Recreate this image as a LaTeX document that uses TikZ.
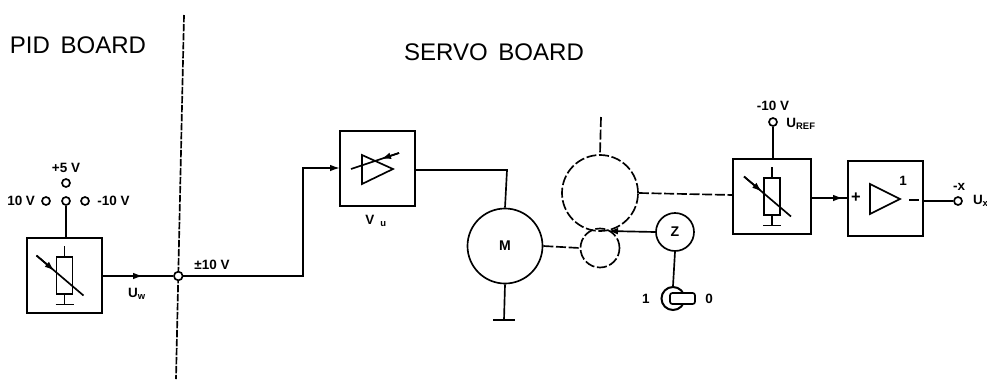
\documentclass[tikz,border=0pt]{standalone}
\usepackage{fontspec}
\setmainfont{Liberation Sans}
\usetikzlibrary{positioning,arrows.meta}

\begin{document}
\begin{tikzpicture}[x=0.03cm, y=-0.03cm, line width=0.5mm, every node/.style={font=\footnotesize},
  blockbox/.style={rectangle, draw, minimum size=2.25cm, inner sep=0pt},
  resbox/.style={rectangle, draw, minimum width=0.48cm, minimum height=1.11cm, inner sep=0pt},
  terminal/.style={circle, draw, minimum size=0.24cm, inner sep=0pt},
  wheel/.style={circle, draw, inner sep=0pt},
  shaft/.style={dash pattern=on 3mm off 0.8mm},
  sig/.style={-{Latex[length=3mm,width=2mm]}},
  title/.style={font=\fontsize{20.5}{22}\selectfont, inner sep=0pt},
  small/.style={font=\fontsize{11.5}{12}\selectfont\bfseries, inner sep=0pt}]
  \useasboundingbox (0,0) rectangle (987,379);

  % board titles and separator
  \node[title] (pid) at (78,45) {PID\, BOARD};
  \node[title] (servo) at (494,52) {SERVO\, BOARD};
  \coordinate (septop) at (184,15);
  \coordinate (sepbot) at (176,379);
  \draw[dash pattern=on 2.2mm off 0.5mm] (septop) -- (sepbot);

  % setpoint side
  \node[blockbox] (potl) at (64.5,275.5) {};
  \node[terminal] (tfive) at (66,183) {};
  \node[terminal] (tmid) at (66,201) {};
  \node[terminal] (tpos) at (46,201) {};
  \node[terminal] (tneg) at (85,201) {};
  \node[small, above=0.14cm of tfive] (lfive) {+5 V};
  \node[small, left=0.16cm of tpos] (lpos) {10 V};
  \node[small, right=0.2cm of tneg] (lneg) {-10 V};
  \draw (tmid) -- (tmid |- potl.north);
  \node[terminal, fill=white, minimum size=0.26cm] (junc) at (178.3,276) {};
  \coordinate (uwtip) at (143,276);
  \draw (potl.east |- uwtip) -- (junc);
  \draw[sig] (potl.east |- uwtip) -- (uwtip);
  \node[small] (uw) at (137,294) {U\textsubscript{w}};
  \node[small] (range) at (212,265) {±10 V};

  % amplifier and motor
  \node[blockbox] (ampv) at (377.5,168.5) {};
  \coordinate (ampin) at (340,168);
  \draw[sig] (junc) -- (303,276) -- (303,168) -- (ampin);
  \coordinate (tria) at (362,155);
  \coordinate (trib) at (393,169);
  \coordinate (tric) at (362,184);
  \draw (tria) -- (trib) -- (tric) -- cycle;
  \coordinate (gaina) at (351,169);
  \coordinate (gainb) at (399,153);
  \draw (gainb) -- (gaina);
  \draw[sig] (gainb) -- (381,159);
  \node[small] (vu) at (376,221) {V\, \textsubscript{u}};
  \node[wheel, minimum size=2.25cm] (motor) at (505,246) {\fontsize{12}{12}\selectfont\rmfamily\bfseries M};
  \draw (ampv.east |- 0,170) -- (507,170) -- (motor.north);
  \coordinate (motgnd) at (504,320);
  \draw (motor.south) -- (motgnd);
  \draw (493,320) -- (515,320);

  % gear train
  \node[wheel, shaft, minimum size=2.28cm] (gearb) at (600,193) {};
  \node[wheel, shaft, minimum size=1.17cm] (gears) at (600,248) {};
  \coordinate (geartop) at (601,117);
  \draw[shaft] (geartop) -- (gearb.north);
  \draw[shaft] (motor.east) -- (gears.west);

  % feedback pot and output
  \node[blockbox, minimum width=2.34cm] (potr) at (772,196.5) {};
  \node[blockbox] (outamp) at (885.5,198.5) {};
  \coordinate (potin) at (733,195);
  \draw[shaft] (gearb.east) -- (potin);
  \node[terminal] (tref) at (773,122) {};
  \draw (tref) -- (tref |- potr.north);
  \node[small, above=0.16cm of tref] (lref) {-10 V};
  \node[small] (uref) at (801,124) {U\textsubscript{REF}};
  \coordinate (frtip) at (843,198);
  \draw (potr.east |- frtip) -- (outamp.west |- frtip);
  \draw[sig] (potr.east |- frtip) -- (frtip);
  \node[small, font=\fontsize{14}{14}\selectfont\bfseries] (plus) at (856,198) {+};
  \draw (870,184) -- (900,199) -- (870,214) -- cycle;
  \node[small] (one) at (903,181) {1};
  \draw (909,200) -- (919,200);
  \node[terminal] (tout) at (958,201) {};
  \draw (outamp.east |- tout) -- (tout);
  \node[small] (lx) at (959,187) {-x};
  \node[small, right=0.28cm of tout] (ux) {U\textsubscript{x}};

  % tacho wheel and switch
  \node[wheel, minimum size=1.14cm] (zed) at (675,232) {\fontsize{12}{12}\selectfont\bfseries Z};
  \draw[sig] (zed.west) -- (608,231);
  \node[wheel, line width=0.6mm, minimum size=0.69cm] (swit) at (673,298.5) {};
  \node[rectangle, draw, fill=white, rounded corners=2pt, minimum width=0.75cm, minimum height=0.33cm, inner sep=0pt] (knob) at (682.5,298.5) {};
  \draw (zed.south) -- (swit.north);
  \node[small, left=0.3cm of swit] (lone) {1};
  \node[small, right=0.26cm of knob] (lzero) {0};

  % both pots carry the same symbol
  \foreach \b in {potl,potr}{
    \begin{scope}[shift={(\b)}]
      \node[resbox] (res\b) at (0,0) {};
      \draw (res\b.north) -- (0,-30);
      \draw (res\b.south) -- (0,29);
      \draw (-9,29) -- (9,29);
      \draw (-28,-20) -- (19,20);
      \draw[sig] (-28,-20) -- (-10,-4.7);
    \end{scope}
  }
\end{tikzpicture}
\end{document}
